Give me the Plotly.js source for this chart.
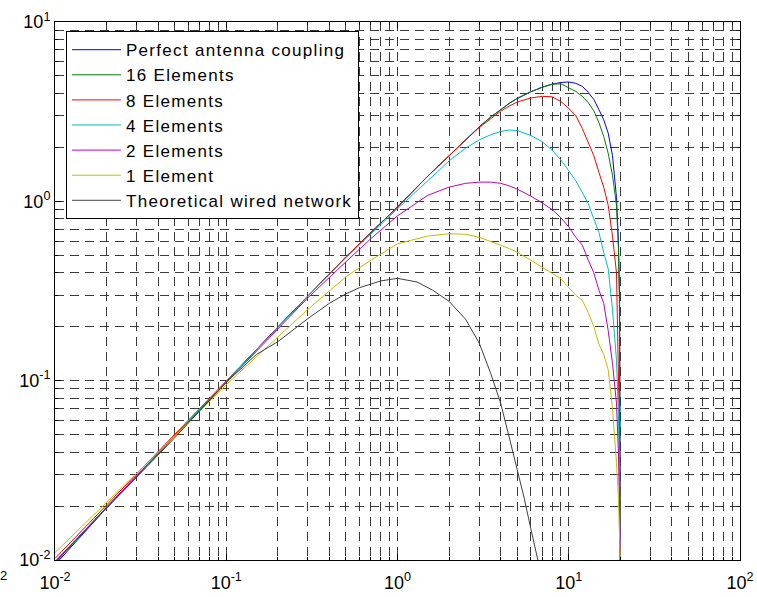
<!DOCTYPE html>
<html>
<head>
<meta charset="utf-8">
<script src="https://cdn.plot.ly/plotly-3.0.1.min.js"></script>
<style>html,body{margin:0;padding:0;background:#fff;}#chart{width:757px;height:597px;}
.legendtext{letter-spacing:1.3px;}</style>
</head>
<body>
<div id="chart"></div>
<script>
// Shared x values for antenna curves
const xAnt = [0.01,0.02,0.05,0.1,0.2,0.3,0.5,0.7,1,1.5,2,2.5,3,3.5,4,4.5,5,6,7,8,9,10,11,12,13,14,15,16,17,18,19,19.5,19.8,20];
const yPerfect = [0.0094,0.0195,0.049,0.099,0.199,0.297,0.49,0.67,0.93,1.38,1.8,2.2,2.6,2.95,3.25,3.52,3.75,4.08,4.33,4.5,4.6,4.63,4.55,4.38,4.05,3.7,3.25,2.85,2.4,1.8,1.05,0.6,0.3,0.01];
const y16 = [0.0096,0.0197,0.049,0.099,0.199,0.297,0.49,0.67,0.93,1.38,1.8,2.2,2.6,2.95,3.25,3.52,3.75,4.08,4.33,4.5,4.52,4.3,4.1,3.85,3.55,3.2,2.75,2.3,1.85,1.4,0.95,0.55,0.25,0.01];
const y8 = [0.0102,0.0203,0.05,0.1,0.2,0.298,0.49,0.67,0.93,1.38,1.8,2.2,2.58,2.9,3.18,3.4,3.58,3.77,3.85,3.83,3.6,3.3,3.0,2.55,2.15,1.8,1.45,1.2,0.95,0.64,0.4,0.13,0.05,0.01];
const y4 = [0.0098,0.0198,0.0495,0.099,0.199,0.296,0.485,0.66,0.91,1.3,1.68,1.98,2.2,2.35,2.45,2.5,2.48,2.33,2.15,1.93,1.7,1.48,1.3,1.12,0.97,0.8,0.67,0.52,0.42,0.25,0.13,0.065,0.03,0.01];
const y2 = [0.0097,0.0197,0.049,0.098,0.196,0.29,0.46,0.62,0.83,1.08,1.2,1.26,1.28,1.28,1.26,1.22,1.17,1.07,0.98,0.9,0.81,0.72,0.63,0.57,0.47,0.4,0.32,0.27,0.19,0.125,0.075,0.04,0.02,0.01];
const y1 = [0.011,0.021,0.049,0.095,0.176,0.25,0.38,0.47,0.58,0.64,0.66,0.655,0.63,0.6,0.57,0.545,0.52,0.47,0.43,0.40,0.37,0.33,0.3,0.28,0.24,0.2,0.16,0.14,0.115,0.07,0.035,0.022,0.015,0.01];
// Theoretical wired network
const xWired = [0.01,0.02,0.05,0.1,0.15,0.2,0.3,0.4,0.5,0.6,0.8,1,1.3,1.6,2,2.5,3,3.5,4,4.5,5,5.5,6,6.6];
const yWired = [0.0098,0.0195,0.048,0.098,0.14,0.165,0.222,0.27,0.305,0.33,0.36,0.372,0.355,0.32,0.277,0.22,0.162,0.11,0.075,0.048,0.032,0.022,0.015,0.01];

const names = ['Perfect antenna coupling','16 Elements','8 Elements','4 Elements','2 Elements','1 Element','Theoretical wired network'];
const colors = ['#0000ff','#008000','#ff0000','#00bfbf','#bf00bf','#bfbf00','#404040'];
const series = [yPerfect,y16,y8,y4,y2,y1];

const traces = series.map((ys,i)=>({
  x: xAnt, y: ys, type:'scatter', mode:'lines', name:names[i],
  line:{color:colors[i], width:1}
}));
traces.push({x:xWired, y:yWired, type:'scatter', mode:'lines', name:names[6], line:{color:colors[6], width:1}});

const xMajor = [0.01,0.1,1,10,100];
const xMajorText = ['10<sup>-2</sup>','10<sup>-1</sup>','10<sup>0</sup>','10<sup>1</sup>','10<sup>2</sup>'];
const yMajor = [0.01,0.1,1,10];
const yMajorText = ['10<sup>-2</sup>','10<sup>-1</sup>','10<sup>0</sup>','10<sup>1</sup>'];

function minors(decades){
  const out=[];
  decades.forEach(d=>{for(let k=2;k<=9;k++) out.push(+(d*k).toPrecision(3));});
  return out;
}

const FONT = 'Liberation Sans, Arial, sans-serif';
const axisCommon = {
  type:'log', showline:true, linecolor:'#000', linewidth:1, mirror:'ticks',
  ticks:'inside', ticklen:6, tickcolor:'#000', tickwidth:1,
  showgrid:true, gridcolor:'#3a3a3a', gridwidth:1, griddash:'9px,6px',
  zeroline:false, tickmode:'array',
  tickfont:{family:FONT, size:18, color:'#000'}
};

const layout = {
  width:757, height:597,
  margin:{l:55, r:17, t:22, b:37},
  paper_bgcolor:'#fff', plot_bgcolor:'#fff',
  showlegend:true,
  legend:{x:0.016, y:0.983, xanchor:'left', yanchor:'top', bgcolor:'#fff', bordercolor:'#000', borderwidth:1,
          font:{family:FONT, size:17, color:'#000'}, itemwidth:49, tracegroupgap:0,
          entrywidthmode:'pixels', entrywidth:300},
  xaxis: Object.assign({}, axisCommon, {range:[-2,2], tickvals:xMajor, ticktext:xMajorText, ticklabelstandoff:6,
    minor:{tickmode:'array', tickvals:minors([0.01,0.1,1,10]), ticks:'inside', ticklen:3, tickcolor:'#000', showgrid:true, gridcolor:'#3a3a3a', gridwidth:1, griddash:'9px,6px'}}),
  yaxis: Object.assign({}, axisCommon, {range:[-2,1], tickvals:yMajor, ticktext:yMajorText,
    minor:{tickmode:'array', tickvals:minors([0.01,0.1,1]), ticks:'inside', ticklen:3, tickcolor:'#000', showgrid:true, gridcolor:'#3a3a3a', gridwidth:1, griddash:'9px,6px'}}),
  annotations:[
    {xref:'paper', yref:'paper', x:-0.0752, y:-0.028, xanchor:'center', yanchor:'middle', showarrow:false,
     text:'2', font:{family:FONT, size:13, color:'#000'}}
  ]
};

Plotly.newPlot('chart', traces, layout, {displayModeBar:false, staticPlot:true});
</script>
</body>
</html>
